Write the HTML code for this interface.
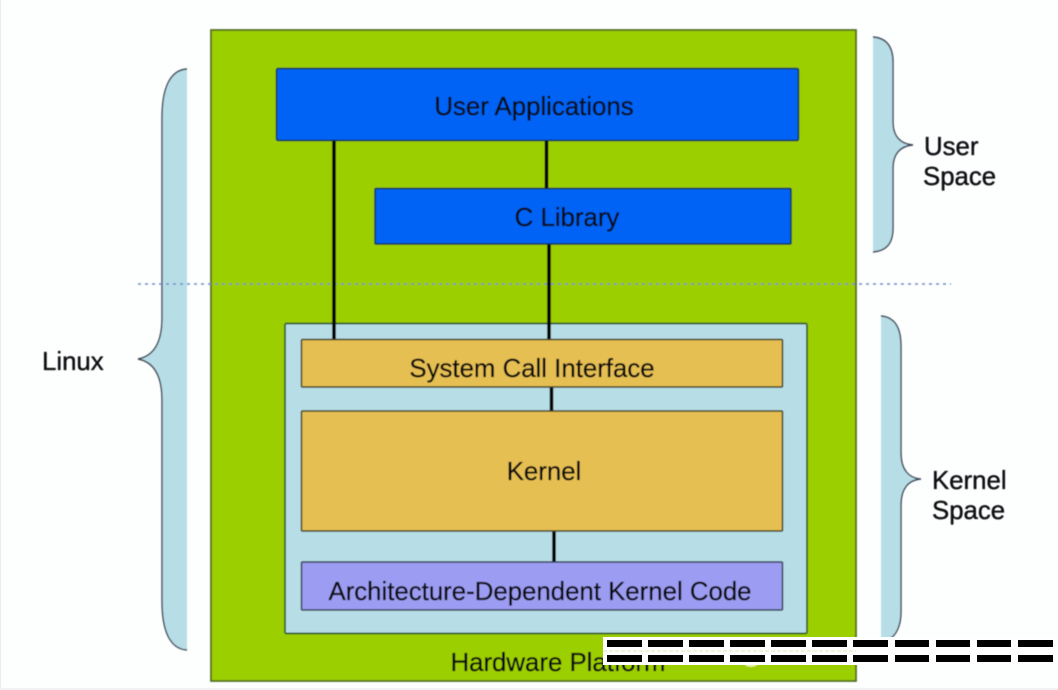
<!DOCTYPE html>
<html>
<head>
<meta charset="utf-8">
<style>
html,body{margin:0;padding:0;background:#fdfefe;width:1058px;height:690px;overflow:hidden}
svg{display:block}
text{font-family:"Liberation Sans",sans-serif;font-size:25.8px;fill:#08080f;stroke:#08080f;stroke-width:0.35px}
</style>
</head>
<body>
<svg width="1058" height="690" viewBox="0 0 1058 690" xmlns="http://www.w3.org/2000/svg">
<defs><filter id="b" x="-2%" y="-2%" width="104%" height="104%"><feGaussianBlur stdDeviation="0.4"/></filter></defs>
<rect x="0" y="0" width="1058" height="690" fill="#fdfefe"/>
<rect x="0" y="0" width="1" height="690" fill="#e8ecee"/>
<rect x="0" y="688" width="1058" height="2" fill="#f0f2f4"/>

<g filter="url(#b)">
<!-- Left brace -->
<path d="M187 69 C170 70 162 88 162 118 L162 318 C162 342 154 356 138 359 C154 362 162 376 162 400 L162 601 C162 631 170 649 187 650 Z" fill="#b7dde6"/>
<path d="M187 69 C170 70 162 88 162 118 L162 318 C162 342 154 356 138 359 C154 362 162 376 162 400 L162 601 C162 631 170 649 187 650" fill="none" stroke="#3f4a58" stroke-width="1.4"/>

<!-- User brace -->
<path d="M873 37 C886 38 893 46 893 62 L893 122 C893 136 900 144 913 145 C900 146 893 154 893 168 L893 228 C893 244 886 251 873 252 Z" fill="#b7dde6"/>
<path d="M873 37 C886 38 893 46 893 62 L893 122 C893 136 900 144 913 145 C900 146 893 154 893 168 L893 228 C893 244 886 251 873 252" fill="none" stroke="#3f4a58" stroke-width="1.4"/>

<!-- Kernel brace -->
<path d="M881 316 C894 317 901 327 901 346 L901 453 C901 469 908 478 921 479 C908 480 901 489 901 505 L901 612 C901 626 896 636 888 640 L881 640 Z" fill="#b7dde6"/>
<path d="M881 316 C894 317 901 327 901 346 L901 453 C901 469 908 478 921 479 C908 480 901 489 901 505 L901 612 C901 626 896 636 888 640" fill="none" stroke="#3f4a58" stroke-width="1.4"/>

<!-- Hardware platform -->
<rect x="211" y="30" width="645" height="651" fill="#9ccf00" stroke="#4f6a1c" stroke-width="1.7"/>

<!-- Dotted line -->
<line x1="138" y1="284" x2="951" y2="284" stroke="#6f8cc4" stroke-width="1.4" stroke-dasharray="3 4"/>

<!-- Kernel area -->
<rect x="285" y="323.500" width="522" height="310" rx="1.500" fill="#b7dde6" stroke="#2f5a2a" stroke-width="1.700"/>

<!-- Connectors -->
<g stroke="#000000" stroke-width="3.600" fill="none">
<line x1="334" y1="140" x2="334" y2="340"/>
<line x1="546.500" y1="140" x2="546.500" y2="188"/>
<line x1="549" y1="244" x2="549" y2="340"/>
<line x1="551.500" y1="387" x2="551.500" y2="411"/>
<line x1="554" y1="531" x2="554" y2="562"/>
</g>

<!-- Blue boxes -->
<rect x="276.500" y="68.500" width="522" height="72" rx="1.500" fill="#0064f5" stroke="#14304f" stroke-width="1.500"/>
<rect x="375" y="188.500" width="416" height="55.500" rx="1" fill="#0064f5" stroke="#14304f" stroke-width="1.500"/>

<!-- Yellow boxes -->
<rect x="301.500" y="339.500" width="481" height="47.500" rx="1" fill="#e6bf52" stroke="#3f3f24" stroke-width="1.500"/>
<rect x="301.500" y="411" width="481" height="120" rx="1" fill="#e6bf52" stroke="#3f3f24" stroke-width="1.500"/>

<!-- Purple box -->
<rect x="301.500" y="562" width="481" height="48" rx="1" fill="#9c9cf2" stroke="#2f3f4f" stroke-width="1.500"/>

<!-- Labels -->
<text x="534" y="115" text-anchor="middle">User Applications</text>
<text x="567" y="226" text-anchor="middle">C Library</text>
<text x="532" y="377" text-anchor="middle">System Call Interface</text>
<text x="544" y="480" text-anchor="middle">Kernel</text>
<text x="540" y="600" text-anchor="middle">Architecture-Dependent Kernel Code</text>
<text x="558" y="671" text-anchor="middle">Hardware Platform</text>
<text x="42" y="370">Linux</text>
<text x="924" y="155">User</text>
<text x="923" y="185">Space</text>
<text x="932" y="489">Kernel</text>
<text x="932" y="519">Space</text>
<ellipse cx="751" cy="664" rx="6" ry="3" fill="#e8f2a0"/>
</g>

<!-- Watermark -->
<rect x="603" y="637" width="451" height="28" fill="#ffffff"/>
<line x1="603" y1="651" x2="856" y2="651" stroke="#dbe8b0" stroke-width="1" stroke-dasharray="4 2"/>
<g fill="#000000">
<rect x="607" y="640" width="35" height="7"/><rect x="648" y="640" width="35" height="7"/><rect x="689" y="640" width="35" height="7"/><rect x="730" y="640" width="35" height="7"/><rect x="771" y="640" width="35" height="7"/><rect x="812" y="640" width="35" height="7"/><rect x="853" y="640" width="35" height="7"/><rect x="895" y="640" width="34" height="7"/><rect x="936" y="640" width="34" height="7"/><rect x="977" y="640" width="34" height="7"/><rect x="1018" y="640" width="35" height="7"/>
<rect x="607" y="655" width="35" height="7"/><rect x="648" y="655" width="35" height="7"/><rect x="689" y="655" width="35" height="7"/><rect x="730" y="655" width="35" height="7"/><rect x="771" y="655" width="35" height="7"/><rect x="812" y="655" width="35" height="7"/><rect x="853" y="655" width="35" height="7"/><rect x="895" y="655" width="34" height="7"/><rect x="936" y="655" width="34" height="7"/><rect x="977" y="655" width="34" height="7"/><rect x="1018" y="655" width="35" height="7"/>
</g>
</svg>
</body>
</html>
